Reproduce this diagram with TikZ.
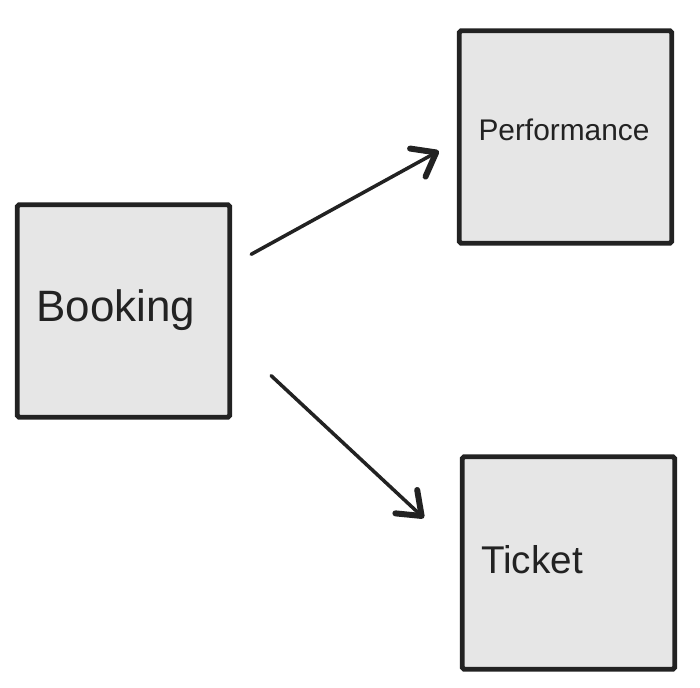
\documentclass[tikz,border=0pt]{standalone}
\usepackage{fontspec}
\setmainfont{Liberation Sans}
\usepackage{xcolor}
\usetikzlibrary{arrows.meta,positioning}

\definecolor{boxfill}{HTML}{E6E6E6}
\definecolor{ink}{HTML}{222222}

\begin{document}
\begin{tikzpicture}[x=0.02cm, y=-0.02cm,
      entity/.style={rectangle, draw=ink, fill=boxfill, line width=2.8pt,
            minimum width=4.25cm, minimum height=4.25cm, rounded corners=1pt},
      label/.style={text=ink, inner sep=0pt},
      arrow/.style={-{Straight Barb[length=0.42cm, width=0.64cm, line width=3.4pt, round]},
            draw=ink, line width=2pt, line cap=round}
]
      \useasboundingbox (0,0) rectangle (700,687);

      \node[entity] (booking) at (123.5,311) {};
      \node[entity] (performance) at (565.5,137) {};
      \node[entity] (ticket) at (568.5,563) {};

      \node[label, font=\fontsize{25}{28}\selectfont] (bookingtxt) at (116,310) {Booking};
      \node[label, font=\fontsize{17}{20}\selectfont] (performancetxt) at (564,130) {Performance};
      \node[label, font=\fontsize{22}{25}\selectfont] (tickettxt) at (532,560) {Ticket};

      \draw[arrow] ([xshift=0.38cm, yshift=-1.04cm]booking.north east)
            -- ([xshift=-0.36cm, yshift=-0.28cm]performance.west);
      \draw[arrow] ([xshift=0.78cm, yshift=0.88cm]booking.south east)
            -- ([xshift=-0.72cm, yshift=0.9cm]ticket.west);
\end{tikzpicture}
\end{document}
